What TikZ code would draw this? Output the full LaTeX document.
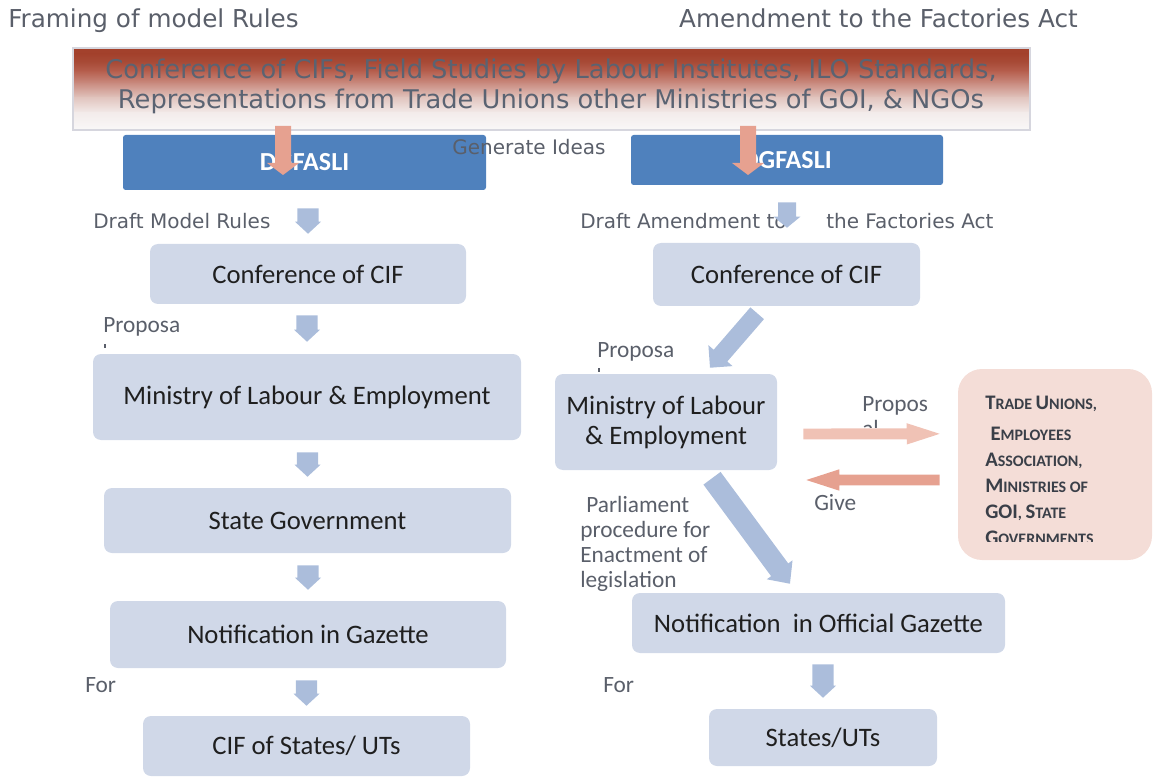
\documentclass[tikz,border=0pt]{standalone}
\usepackage{fontspec}
\usetikzlibrary{fit,calc}
\setmainfont{Carlito}
\newfontfamily\labfont{DejaVu Sans}
\newfontfamily\calfont{Carlito}
\definecolor{boxfill}{HTML}{D0D8E8}
\definecolor{dgfill}{HTML}{4F81BD}
\definecolor{barrowc}{HTML}{ABBDDB}
\definecolor{saldark}{HTML}{E6A190}
\definecolor{sallight}{HTML}{F0C2B5}
\definecolor{pinkfill}{HTML}{F4DDD7}
\definecolor{labgray}{HTML}{5A5F6A}
\definecolor{bannertxt}{HTML}{5A6372}
\definecolor{bannerline}{HTML}{D6D6DE}
\definecolor{pinktxt}{HTML}{3A3F48}
\definecolor{bnA}{HTML}{A3412C}
\definecolor{bnA2}{HTML}{A84B37}
\definecolor{bnB}{HTML}{B65F4E}
\definecolor{bnC}{HTML}{CB8F84}
\definecolor{bnD}{HTML}{E2C6C0}
\definecolor{bnE}{HTML}{F3ECEB}
\definecolor{bnF}{HTML}{F9F8F8}
\newcommand\smc[2]{{\fontsize{15.5}{19.5}\selectfont #1}{\fontsize{12}{19.5}\selectfont #2}}
\tikzset{
  box/.style={fill=boxfill, rounded corners=6pt, inner sep=0pt},
  boxtext/.style={inner sep=0pt, text=black!88,
    font=\calfont\fontsize{20}{22.5}\selectfont, align=center},
  dgbox/.style={fill=dgfill, rounded corners=2pt, inner sep=0pt},
  dgtext/.style={inner sep=0pt, text=white, font=\calfont\bfseries\fontsize{19.5}{22}\selectfont},
  pinkbox/.style={fill=pinkfill, rounded corners=18pt, inner sep=0pt},
  banner/.style={draw=bannerline, line width=1.2pt, inner sep=0pt},
  bantext/.style={text=bannertxt, font=\labfont\fontsize{19.3}{22.5}\selectfont, align=center, inner sep=0pt},
  lab/.style={text=labgray, font=\labfont\fontsize{15}{18}\selectfont, inner sep=0pt},
  headlab/.style={text=labgray, font=\labfont\fontsize{18.5}{22}\selectfont, inner sep=0pt},
  clab/.style={text=labgray, font=\calfont\fontsize{17.5}{18.75}\selectfont, inner sep=0pt},
  pinktext/.style={text=pinktxt, font=\calfont\bfseries\fontsize{12}{19.5}\selectfont, align=left, inner sep=0pt},
  blk/.style args={#1/#2/#3/#4}{fill=#1, to path={
    ($(\tikztotarget)!#4!(\tikztostart)$) coordinate (bhtmp)
    ($(\tikztostart)!#2!90:(\tikztotarget)$) -- ($(bhtmp)!#2!90:(\tikztotarget)$)
    -- ($(bhtmp)!#3!90:(\tikztotarget)$) -- (\tikztotarget)
    -- ($(bhtmp)!#3!-90:(\tikztotarget)$) -- ($(bhtmp)!#2!-90:(\tikztotarget)$)
    -- ($(\tikztostart)!#2!-90:(\tikztotarget)$) -- cycle}},
  bluearrow/.style={blk=barrowc/7.9pt/9.75pt/9pt},
  salarrow/.style={blk=saldark/6pt/12pt/9pt},
}
\begin{document}
\begin{tikzpicture}[x=0.75pt,y=-0.75pt]
\useasboundingbox (0,0) rectangle (1153,777);
\clip (0,0) rectangle (1153,777);

% headings
\node[headlab, anchor=base west] (h1) at (8,28) {Framing of model Rules};
\node[headlab, anchor=base east] (h2) at (1078,28) {Amendment to the Factories Act};

% banner gradient bands
\fill[bnA] (73,48) rectangle (1030,54.5);
\shade[top color=bnA, bottom color=bnA2] (73,54) rectangle (1030,62.5);
\shade[top color=bnA2, bottom color=bnB] (73,62) rectangle (1030,71.5);
\shade[top color=bnB, bottom color=bnC] (73,71) rectangle (1030,84.5);
\shade[top color=bnC, bottom color=bnD] (73,84) rectangle (1030,98.5);
\shade[top color=bnD, bottom color=bnE] (73,98) rectangle (1030,113.5);
\shade[top color=bnE, bottom color=bnF] (73,113) rectangle (1030,130);
\node[banner, fit={(73,48) (1030,130)}] (banner) {};
\node[bantext] (bant) at (551,86) {Conference of CIFs, Field Studies by Labour Institutes, ILO Standards,\\Representations from Trade Unions other Ministries of GOI, \& NGOs};

% boxes
\node[dgbox, fit={(123,135) (486,190)}] (dg1) {};
\node[dgtext] (dg1t) at (dg1.center) {DGFASLI};
\node[dgbox, fit={(631,135) (943,185)}] (dg2) {};
\node[dgtext] (dg2t) at (dg2.center) {DGFASLI};
\node[box, fit={(150,244) (466,304)}] (cif1) {};
\node[boxtext] (cif1t) at (cif1.center) {Conference of CIF};
\node[box, fit={(93,354) (521,440)}] (min1) {};
\node[boxtext] (min1t) at (min1.center) {Ministry of Labour \& Employment};
\node[box, fit={(104,488) (511,553)}] (sg) {};
\node[boxtext] (sgt) at (sg.center) {State Government};
\node[box, fit={(110,601) (506,668)}] (not1) {};
\node[boxtext] (not1t) at (not1.center) {Notification in Gazette};
\node[box, fit={(143,716) (470,776)}] (cifs) {};
\node[boxtext] (cifst) at (cifs.center) {CIF of States/ UTs};
\node[box, fit={(653,243) (920,306)}] (cif2) {};
\node[boxtext] (cif2t) at (cif2.center) {Conference of CIF};
\node[box, fit={(555,374) (777,470)}] (min2) {};
\node[boxtext] (min2t) at (min2.center) {Ministry of Labour\\\& Employment};
\node[box, fit={(632,593) (1005,653)}] (not2) {};
\node[boxtext] (not2t) at (not2.center) {Notification\ \ in Official Gazette};
\node[box, fit={(709,709) (937,766)}] (states) {};
\node[boxtext] (statest) at (states.center) {States/UTs};
\node[pinkbox, fit={(958,369) (1152,560)}] (pink) {};

\begin{scope}
\clip (958,369) rectangle (1153,541);
\node[pinktext, anchor=north west] (ptxt) at (985,396) {\smc{T}{RADE} \smc{U}{NIONS,}\\[3.75pt]
\hspace*{4pt}\smc{E}{MPLOYEES}\\
\smc{A}{SSOCIATION,}\\
\smc{M}{INISTRIES} \smc{}{OF}\\
\smc{GOI}{,} \smc{S}{TATE}\\
\smc{G}{OVERNMENTS}};
\end{scope}

% labels
\node[lab, anchor=base west] (gi) at (452,155) {Generate Ideas};
\node[lab, anchor=base west] (dmr) at (93,229) {Draft Model Rules};
\node[lab, anchor=base west] (da1) at (580,229) {Draft Amendment to};
\node[lab, anchor=base west] (da2) at (826,229) {the Factories Act};

\node[clab, anchor=base west] (pr1) at (103,333) {Proposa};
\fill[labgray] (104,344) rectangle (106,347.5);
\node[clab, anchor=base west] (pr2) at (597,357) {Proposa};
\fill[labgray] (598,368) rectangle (600,372);
\node[clab, anchor=base west] (pr3) at (862,411) {Propos};
\begin{scope}\clip (855,415) rectangle (900,427);
\node[clab, anchor=base west] (pr3b) at (862,436) {al};
\end{scope}
\node[clab, anchor=base west] (give) at (814,510) {Give};
\node[clab, anchor=base west] (for1) at (85,692) {For};
\node[clab, anchor=base west] (for2) at (603,692) {For};
\node[clab, anchor=north west, align=left] (parl) at (580,496) {\hspace*{4.5pt}Parliament\\procedure for\\Enactment of\\legislation};

% arrow end points
\coordinate (t1) at (283,175);
\coordinate (t2) at (748,175);
\coordinate (t1s) at ([yshift=3.75pt]banner.south -| t1);
\coordinate (t2s) at ([yshift=3.75pt]banner.south -| t2);
\coordinate (l1s) at ([yshift=-13.5pt]dg1.south -| cif1.north);
\coordinate (l1e) at ([yshift=7.5pt]cif1.north);
\coordinate (l2s) at ([yshift=-8.25pt]cif1.south -| min1.north);
\coordinate (l2e) at ([yshift=9pt]min1.north);
\coordinate (l3s) at ([yshift=-9pt]min1.south -| sg.north);
\coordinate (l3e) at ([yshift=8.25pt]sg.north);
\coordinate (l4s) at ([yshift=-9pt]sg.south -| not1.north);
\coordinate (l4e) at ([yshift=8.25pt]not1.north);
\coordinate (l5s) at ([yshift=-9pt]not1.south -| cifs.north);
\coordinate (l5e) at ([yshift=7.5pt]cifs.north);
\coordinate (r1s) at ([yshift=-12.75pt]dg2.south);
\coordinate (r1e) at ([yshift=11.25pt]cif2.north -| dg2.south);
\coordinate (r2s) at ([shift={(-22pt,-5.25pt)}]cif2.south);
\coordinate (r2e) at ([shift={(33pt,4.5pt)}]min2.north);
\coordinate (r3s) at ([shift={(34.5pt,-6pt)}]min2.south);
\coordinate (r3e) at ([shift={(-21.4pt,6.75pt)}]not2.north);
\coordinate (r4s) at ([yshift=-8.25pt]not2.south -| states.north);
\coordinate (r4e) at ([yshift=8.25pt]states.north);
\coordinate (h1s) at ([shift={(19.5pt,-9pt)}]min2.east);
\coordinate (h1e) at ([shift={(-13.5pt,23pt)}]pink.west);
\coordinate (h2s) at ([shift={(-13.5pt,-11.6pt)}]pink.west);
\coordinate (h2e) at ([shift={(21.75pt,-43.5pt)}]min2.east);

% arrows
\path[salarrow] (t1s) to (t1);
\path[salarrow] (t2s) to (t2);
\path[bluearrow] (l1s) to (l1e);
\path[bluearrow] (l2s) to (l2e);
\path[bluearrow] (l3s) to (l3e);
\path[bluearrow] (l4s) to (l4e);
\path[bluearrow] (l5s) to (l5e);
\path[blk=barrowc/6.75pt/10pt/8.25pt] (r1s) to (r1e);
\path[blk=barrowc/6.75pt/12pt/12pt] (r2s) to (r2e);
\path[blk=barrowc/8pt/12pt/13pt] (r3s) to (r3e);
\path[bluearrow] (r4s) to (r4e);
\path[blk=sallight/4.1pt/8pt/24.75pt] (h1s) to (h1e);
\path[blk=saldark/4.1pt/8pt/24.75pt] (h2s) to (h2e);
\end{tikzpicture}
\end{document}
